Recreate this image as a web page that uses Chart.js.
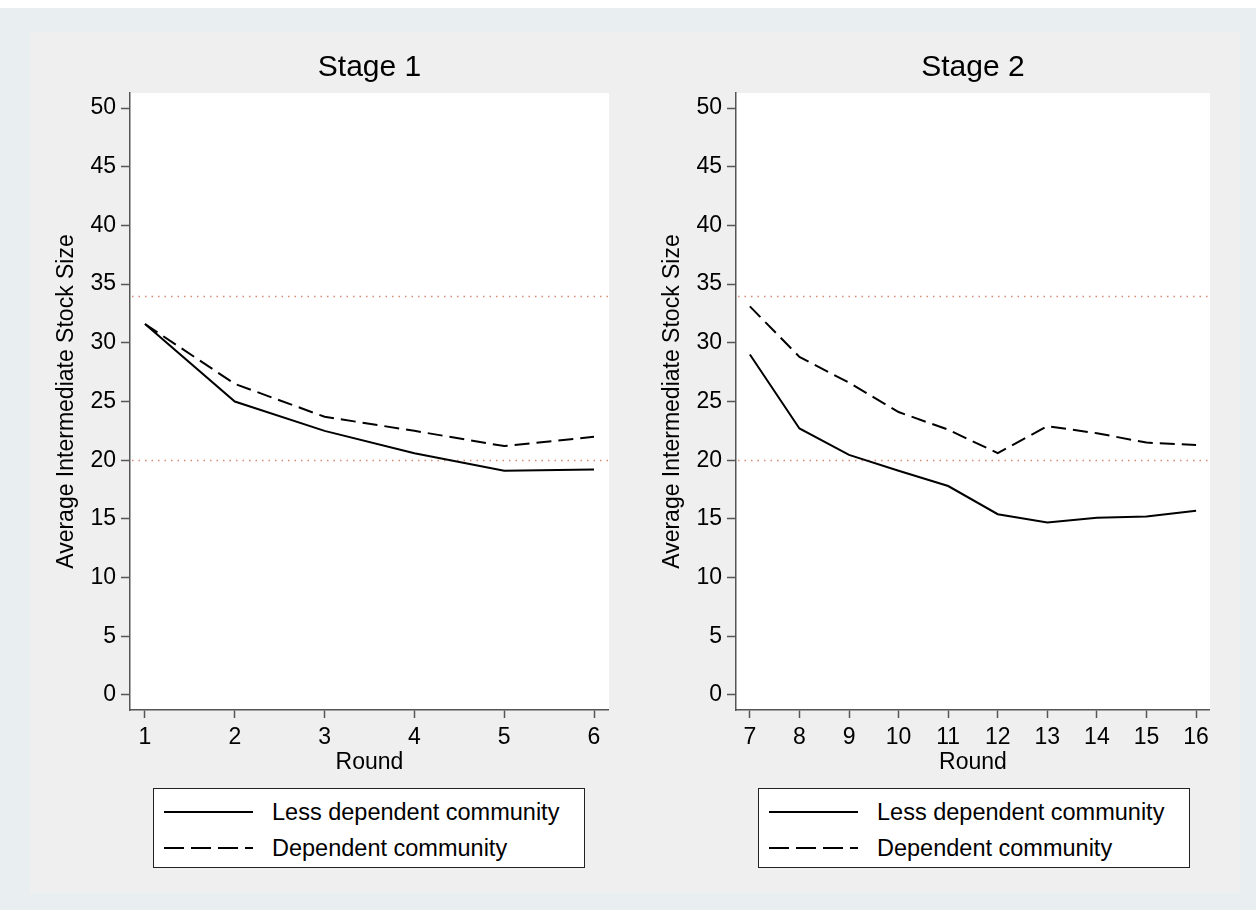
<!DOCTYPE html>
<html>
<head>
<meta charset="utf-8">
<title>Average Intermediate Stock Size by Round</title>
<script src="https://cdn.jsdelivr.net/npm/chart.js@4.4.0/dist/chart.umd.min.js"></script>
<style>
  html, body { margin: 0; padding: 0; }
  body { width: 1256px; height: 910px; background: #e9eff0; position: relative; overflow: hidden;
         font-family: "Liberation Sans", Arial, Helvetica, sans-serif; }
  #topstrip { position: absolute; left: 0; top: 0; width: 1256px; height: 8px; background: #fff; }
  #panel { position: absolute; left: 30px; top: 32px; width: 1210px; height: 861px; background: #efefef; }
  canvas { position: absolute; top: 0; }
  .legend { position: absolute; top: 788px; width: 430px; height: 78px; background: #fff;
            border: 1.5px solid #222; font-size: 23.5px; color: #000; }
  .legend .row { position: absolute; left: 0; height: 30px; line-height: 30px; }
  .legend .sample { position: absolute; left: 10px; top: 14px; width: 89px; height: 0; border-top: 2px solid #000; }
  .legend .sample.dash { border-top: none; height: 2px;
            background: repeating-linear-gradient(90deg, #000 0 20px, transparent 20px 27px); }
  .legend .txt { position: absolute; left: 118px; top: 0; white-space: nowrap; }
</style>
</head>
<body>
<div id="topstrip"></div>
<div id="panel"></div>
<canvas id="stage1" width="609" height="790" style="left:0px"></canvas>
<canvas id="stage2" width="609" height="790" style="left:606px"></canvas>

<div class="legend" style="left:153px">
  <div class="row" style="top:8px"><div class="sample"></div><div class="txt">Less dependent community</div></div>
  <div class="row" style="top:44px"><div class="sample dash"></div><div class="txt">Dependent community</div></div>
</div>
<div class="legend" style="left:758px">
  <div class="row" style="top:8px"><div class="sample"></div><div class="txt">Less dependent community</div></div>
  <div class="row" style="top:44px"><div class="sample dash"></div><div class="txt">Dependent community</div></div>
</div>

<script>
  // rounds and values
  const stage1Rounds = [1, 2, 3, 4, 5, 6];
  const stage1LessDependent = [31.6, 25.0, 22.5, 20.6, 19.1, 19.2];
  const stage1Dependent = [31.6, 26.5, 23.7, 22.5, 21.2, 22.0];

  const stage2Rounds = [7, 8, 9, 10, 11, 12, 13, 14, 15, 16];
  const stage2LessDependent = [29.0, 22.7, 20.45, 19.1, 17.8, 15.4, 14.7, 15.1, 15.2, 15.7];
  const stage2Dependent = [33.1, 28.8, 26.6, 24.1, 22.6, 20.6, 22.9, 22.3, 21.5, 21.3];

  const yTicks = [0, 5, 10, 15, 20, 25, 30, 35, 40, 45, 50];
  const refLines = [34, 20];

  const FONT = '"Liberation Sans", Arial, Helvetica, sans-serif';
  const AXIS = '#555';

  // white plot background + dotted reference lines across the plot area
  const plotExtras = {
    id: 'plotExtras',
    beforeDraw(chart) {
      const {ctx, chartArea: a} = chart;
      ctx.save();
      ctx.fillStyle = '#fff';
      ctx.fillRect(a.left, a.top, a.right - a.left, a.bottom - a.top);
      ctx.restore();
    },
    beforeDatasetsDraw(chart) {
      const {ctx, chartArea: a, scales} = chart;
      ctx.save();
      ctx.strokeStyle = '#d98a72';
      ctx.lineWidth = 1.5;
      ctx.setLineDash([1.5, 5]);
      refLines.forEach(v => {
        const y = Math.round(scales.y.getPixelForValue(v)) + 0.5;
        ctx.beginPath();
        ctx.moveTo(a.left + 2, y);
        ctx.lineTo(a.right, y);
        ctx.stroke();
      });
      ctx.restore();
    }
  };

  function makeChart(id, title, rounds, less, dep, xMin, xMax) {
    const pts = vals => rounds.map((r, i) => ({x: r, y: vals[i]}));
    return new Chart(document.getElementById(id), {
      type: 'line',
      data: {
        datasets: [
          { label: 'Less dependent community', data: pts(less), borderColor: '#000',
            borderWidth: 2, pointRadius: 0, tension: 0 },
          { label: 'Dependent community', data: pts(dep), borderColor: '#000',
            borderWidth: 2, borderDash: [15, 7], pointRadius: 0, tension: 0 }
        ]
      },
      options: {
        responsive: false,
        animation: false,
        layout: { padding: 0 },
        plugins: {
          legend: { display: false },
          tooltip: { enabled: false },
          title: {
            display: true, text: title, color: '#000', fullSize: false,
            font: { family: FONT, size: 30, weight: 'normal' },
            padding: { top: 50, bottom: 7 }
          }
        },
        scales: {
          x: {
            type: 'linear', min: xMin, max: xMax,
            afterBuildTicks: s => { s.ticks = rounds.map(v => ({value: v})); },
            afterFit: s => { s.height = 80; },
            grid: { drawOnChartArea: false, drawTicks: true, tickLength: 8, color: AXIS, tickWidth: 1.5 },
            border: { display: true, color: AXIS, width: 1.5 },
            ticks: { color: '#000', padding: 6, font: { family: FONT, size: 23 }, maxRotation: 0,
                     callback: v => String(v) },
            title: { display: true, text: 'Round', color: '#000', font: { family: FONT, size: 23 },
                     padding: { top: 0, bottom: 14 } }
          },
          y: {
            min: -1.28, max: 51.28,
            afterBuildTicks: s => { s.ticks = yTicks.map(v => ({value: v})); },
            afterFit: s => { s.width = 130; },
            grid: { drawOnChartArea: false, drawTicks: true, tickLength: 9, color: AXIS, tickWidth: 1.5 },
            border: { display: true, color: AXIS, width: 1.5 },
            ticks: { color: '#000', padding: 5, font: { family: FONT, size: 23 }, callback: v => String(v) },
            title: { display: true, text: 'Average Intermediate Stock Size', color: '#000',
                     font: { family: FONT, size: 23 }, padding: { top: 53, bottom: 0 } }
          }
        }
      },
      plugins: [plotExtras]
    });
  }

  makeChart('stage1', 'Stage 1', stage1Rounds, stage1LessDependent, stage1Dependent, 0.833, 6.167);
  makeChart('stage2', 'Stage 2', stage2Rounds, stage2LessDependent, stage2Dependent, 6.72, 16.28);
</script>
</body>
</html>
